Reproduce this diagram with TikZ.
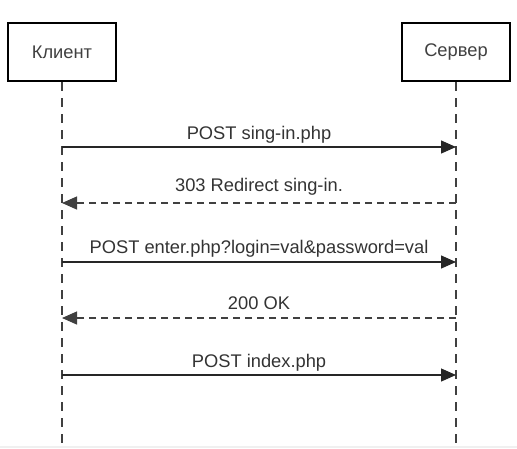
\documentclass[tikz,border=0pt]{standalone}
\usepackage{fontspec}
\setmainfont{Liberation Sans}
\usetikzlibrary{arrows.meta}

\begin{document}
\begin{tikzpicture}[
    x=1pt, y=-1pt,
    actor/.style={draw=black, line width=2.3pt, fill=white, minimum width=108pt, minimum height=58pt, text=black!75, font=\fontsize{18.3}{21}\selectfont},
    lifeline/.style={draw=black!75, line width=1.5pt, dash pattern=on 9pt off 7pt},
    request/.style={draw=black!85, line width=1.3pt, -{Triangle[length=15pt, width=13pt]}},
    reply/.style={draw=black!75, line width=1.3pt, dash pattern=on 7pt off 5pt, -{Triangle[length=15pt, width=13pt]}},
    msg/.style={text=black!80, font=\fontsize{18.3}{21}\selectfont, anchor=base, inner sep=0pt}
  ]
    \useasboundingbox (0,0) rectangle (517,448);
    \fill[black!6] (0,446) rectangle (517,448);

    % participants
    \node[actor] (client) at (62,52) {Клиент};
    \node[actor] (server) at (456,52) {Сервер};
    \coordinate (client end) at (62,446);
    \coordinate (server end) at (456,446);
    \draw[lifeline] (client.south) -- (client end);
    \draw[lifeline] (server.south) -- (server end);

    % points on the lifelines
    \foreach \i/\y in {1/147, 2/203, 3/262, 4/318, 5/375} {
      \coordinate (c\i) at (62,\y);
      \coordinate (s\i) at (456,\y);
    }

    % messages
    \draw[request] (c1) -- (s1) node[msg, midway, yshift=7.5pt] {POST sing-in.php};
    \draw[reply] (s2) -- (c2) node[msg, midway, yshift=11.5pt] {303 Redirect sing-in.};
    \draw[request] (c3) -- (s3) node[msg, midway, yshift=8.5pt] {POST enter.php?login=val\&password=val};
    \draw[reply] (s4) -- (c4) node[msg, midway, yshift=8.5pt] {200 OK};
    \draw[request] (c5) -- (s5) node[msg, midway, yshift=7.5pt] {POST index.php};
\end{tikzpicture}
\end{document}
